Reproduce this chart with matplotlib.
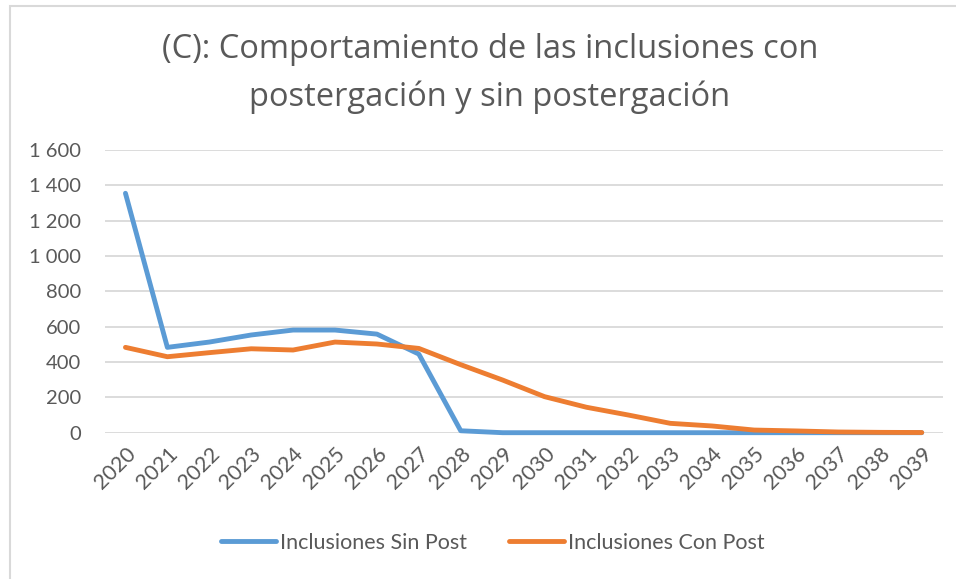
import matplotlib
matplotlib.use("Agg")
import matplotlib.pyplot as plt
import matplotlib.transforms as mtransforms
from matplotlib.patches import Rectangle
from matplotlib.ticker import FuncFormatter

# =========================
# DATA
# =========================
years = [str(y) for y in range(2020, 2040)]
sin_post = [1355, 483, 513, 553, 581, 581, 558, 445, 11, 0,
            0, 0, 0, 0, 0, 0, 0, 0, 0, 0]
con_post = [483, 430, 453, 475, 468, 513, 502, 477, 385, 298,
            204, 144, 100, 53, 38, 15, 10, 4, 2, 1]
y_ticks = [0, 200, 400, 600, 800, 1000, 1200, 1400, 1600]

blue = "#5B9BD5"
orange = "#ED7D31"
txt = "#595959"
grid_c = "#D9D9D9"

# =========================
# PLOT
# =========================
fig = plt.figure(figsize=(9.56, 5.79), dpi=100)
ax = fig.add_axes([104.5 / 956, 1 - 432.7 / 579, (942.7 - 104.5) / 956, (432.7 - 150) / 579])

x = range(len(years))
ax.plot(x, sin_post, color=blue, linewidth=3.5, solid_capstyle="round",
        solid_joinstyle="round", label="Inclusiones Sin Post", zorder=3)
ax.plot(x, con_post, color=orange, linewidth=3.5, solid_capstyle="round",
        solid_joinstyle="round", label="Inclusiones Con Post", zorder=4)

ax.set_xlim(-0.5, len(years) - 0.5)
ax.set_ylim(0, 1600)
ax.set_yticks(y_ticks)
ax.yaxis.set_major_formatter(FuncFormatter(lambda v, p: f"{int(v):,}".replace(",", " ")))
ax.set_xticks(list(x))
ax.set_xticklabels(years, rotation=45, ha="right", rotation_mode="anchor")

for lab in ax.get_yticklabels():
    lab.set_fontfamily("Lato")
    lab.set_fontsize(14.5)
    lab.set_color(txt)
for lab in ax.get_xticklabels():
    lab.set_fontfamily("Lato")
    lab.set_fontsize(15.5)
    lab.set_color(txt)

# nudge the slanted year labels so they end right under each point
shift = mtransforms.ScaledTranslation(12 / 100, -13 / 100, fig.dpi_scale_trans)
for lab in ax.get_xticklabels():
    lab.set_transform(lab.get_transform() + shift)

ax.tick_params(axis="both", length=0)
ax.tick_params(axis="y", pad=17)
ax.tick_params(axis="x", pad=8)
ax.grid(True, axis="y", color=grid_c, linewidth=1.3)
ax.set_axisbelow(True)
for s in ax.spines.values():
    s.set_visible(False)
for ln in ax.lines:
    ln.set_clip_on(False)

fig.text(490 / 956, 1 - 50 / 579, "(C): Comportamiento de las inclusiones con",
         ha="center", va="center", fontsize=23.5, color=txt, fontfamily="Open Sans")
fig.text(490 / 956, 1 - 97 / 579, "postergación y sin postergación",
         ha="center", va="center", fontsize=23.5, color=txt, fontfamily="Open Sans")

leg = fig.legend(loc="center", bbox_to_anchor=(493 / 956, 1 - 543 / 579), ncol=2,
                 frameon=False, prop={"family": "Lato", "size": 15.5},
                 handlelength=2.55, handletextpad=0.2, columnspacing=1.95)
for t in leg.get_texts():
    t.set_color(txt)

# chart border
fig.patches.append(Rectangle((10 / 956, -0.05), 1.2, 1 - 6 / 579 + 0.05,
                             transform=fig.transFigure, fill=False,
                             edgecolor=grid_c, linewidth=1.5))

fig.savefig("out.png", dpi=100)
